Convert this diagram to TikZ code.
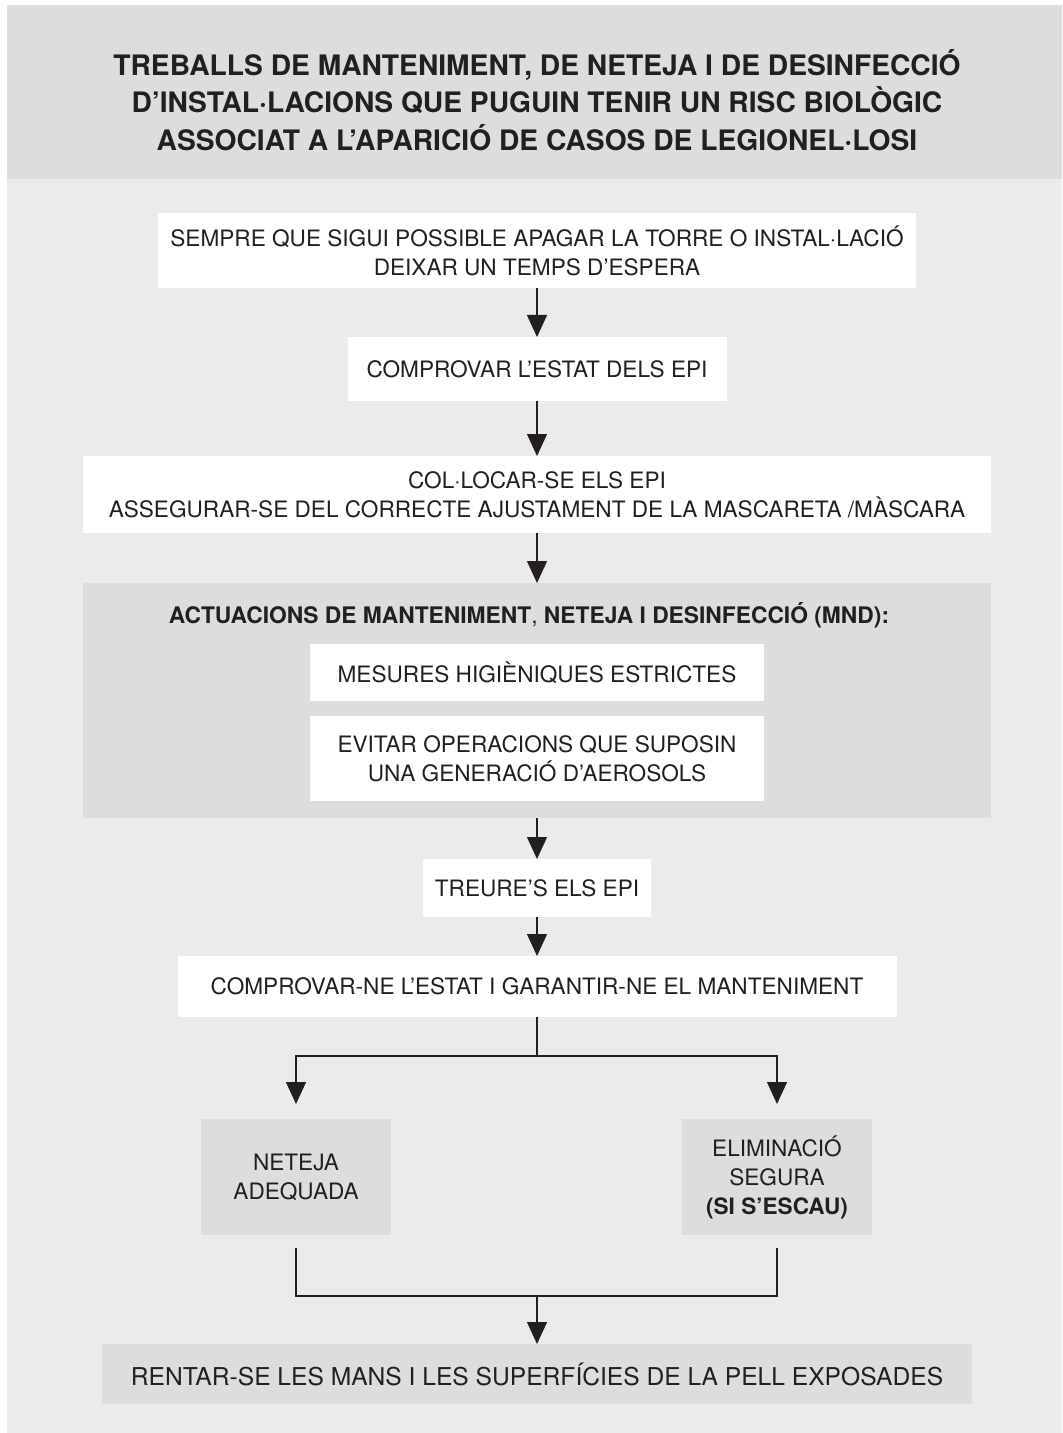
\documentclass[tikz,border=0pt]{standalone}
\usepackage{fontspec}
\setmainfont{TeX Gyre Heros}
\usetikzlibrary{arrows.meta, positioning}
\definecolor{pagegrey}{HTML}{EBEBED}
\definecolor{boxgrey}{HTML}{DCDDDF}
\definecolor{ink}{HTML}{231F20}
\tikzstyle{whitebox} = [rectangle, fill=white, text=ink, align=center, inner sep=0pt, outer sep=0pt, font=\fontsize{11.3pt}{14.5pt}\selectfont]
\tikzstyle{greybox} = [rectangle, fill=boxgrey, text=ink, align=center, inner sep=0pt, outer sep=0pt, font=\fontsize{11.3pt}{14.5pt}\selectfont]
\tikzstyle{heading} = [text=ink, align=center, inner sep=0pt, font=\fontsize{14.1pt}{18.75pt}\bfseries\selectfont]
\tikzstyle{link} = [draw=ink, line width=0.65pt]
\tikzstyle{arrow} = [link, -{Triangle[width=10pt,length=11pt]}]
\begin{document}
\begin{tikzpicture}[node distance=25pt]
\useasboundingbox (0,0) rectangle (531pt,-716.5pt);
\fill [pagegrey] (3.5pt,-2.5pt) rectangle (531pt,-716.5pt);

\node (header) [greybox, minimum width=527.5pt, minimum height=87pt] at (267.25pt,-46pt) {};
\node (title) [heading] at (268.5pt,-50pt) {TREBALLS DE MANTENIMENT, DE NETEJA I DE DESINFECCIÓ\\ D’INSTAL·LACIONS QUE PUGUIN TENIR UN RISC BIOLÒGIC\\ ASSOCIAT A L’APARICIÓ DE CASOS DE LEGIONEL·LOSI};

\node (apagar) [whitebox, minimum width=379pt, minimum height=37.5pt, anchor=north] at (268.5pt,-106.5pt) {SEMPRE QUE SIGUI POSSIBLE APAGAR LA TORRE O INSTAL·LACIÓ\\ DEIXAR UN TEMPS D’ESPERA};

\node (comprovar) [whitebox, minimum width=189.5pt, minimum height=32pt, below=24.5pt of apagar] {COMPROVAR L’ESTAT DELS EPI};

\node (collocar) [whitebox, minimum width=454pt, minimum height=38.5pt, below=27.5pt of comprovar] {COL·LOCAR-SE ELS EPI\\ ASSEGURAR-SE DEL CORRECTE AJUSTAMENT DE LA MASCARETA /MÀSCARA};

% actuacions MND
\node (mnd) [greybox, minimum width=454pt, minimum height=117.5pt, below=of collocar] {};
\node (mndtitle) [text=ink, inner sep=0pt, font=\fontsize{11.4pt}{14.5pt}\selectfont] at ([xshift=-4pt, yshift=-16pt]mnd.north) {\textbf{ACTUACIONS DE MANTENIMENT}, \textbf{NETEJA I DESINFECCIÓ (MND):}};
\node (mesures) [whitebox, minimum width=227pt, minimum height=28.5pt, below=30.5pt of mnd.north] {MESURES HIGIÈNIQUES ESTRICTES};
\node (evitar) [whitebox, minimum width=227pt, minimum height=42.5pt, below=7.5pt of mesures] {EVITAR OPERACIONS QUE SUPOSIN\\ UNA GENERACIÓ D’AEROSOLS};

\node (treure) [whitebox, minimum width=114pt, minimum height=29pt, below=20.5pt of mnd] {TREURE’S ELS EPI};

\node (garantir) [whitebox, minimum width=359.5pt, minimum height=30.5pt, below=19.5pt of treure] {COMPROVAR-NE L’ESTAT I GARANTIR-NE EL MANTENIMENT};

\coordinate [below=19.5pt of garantir] (split);

\node (neteja) [greybox, minimum width=95pt, minimum height=58pt, anchor=north] at (148pt,-559.5pt) {NETEJA\\ ADEQUADA};
\node (eliminacio) [greybox, minimum width=95pt, minimum height=58pt, anchor=north] at (388.5pt,-559.5pt) {ELIMINACIÓ\\ SEGURA\\ \textbf{(SI S’ESCAU)}};

\coordinate (merge) at (268.5pt,-648pt);

\node (rentar) [greybox, minimum width=435pt, minimum height=30pt, below=24pt of merge, font=\fontsize{12.3pt}{15pt}\selectfont] {RENTAR-SE LES MANS I LES SUPERFÍCIES DE LA PELL EXPOSADES};

\draw [arrow] (apagar) -- (comprovar);
\draw [arrow] (comprovar) -- (collocar);
\draw [arrow] (collocar) -- (mnd);
\draw [arrow] (mnd) -- (treure);
\draw [arrow] (treure) -- (garantir);

\draw [link] (garantir) -- (split);
\draw [arrow, shorten >=7.5pt] (split) -| (neteja);
\draw [arrow, shorten >=7.5pt] (split) -| (eliminacio);

\draw [link, shorten <=6.5pt] (neteja) |- (merge);
\draw [link, shorten <=6.5pt] (eliminacio) |- (merge);
\draw [arrow] (merge) -- (rentar);
\end{tikzpicture}
\end{document}
